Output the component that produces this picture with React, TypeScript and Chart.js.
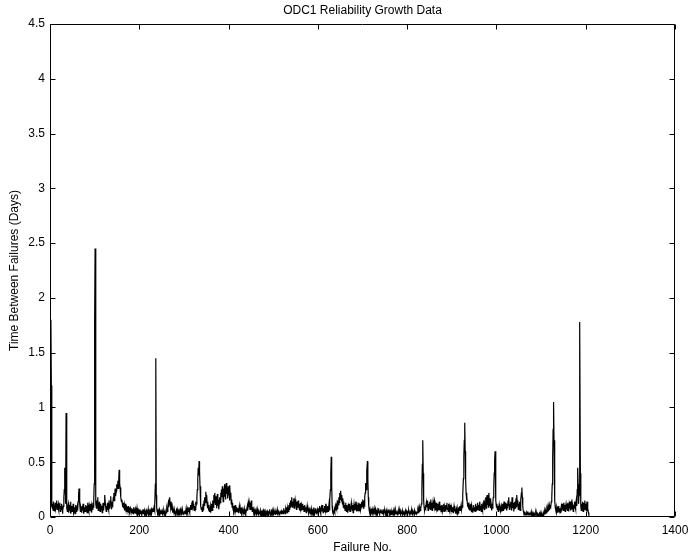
import React, { useEffect, useRef } from "react";
import { Chart, registerables } from "chart.js";

Chart.register(...registerables);

const chartTitle = "ODC1 Reliability Growth Data";
const xAxisTitle = "Failure No.";
const yAxisTitle = "Time Between Failures (Days)";
const xRange = [0, 1400];
const xStep = 200;
const yRange = [0, 4.5];
const yStep = 0.5;

// Time between failures (days), failures 1..200
const failures1to200 = [
  0.10, 1.80, 1.20, 0.15, 0.08, 0.12, 0.06, 0.14, 0.09, 0.11, 0.05, 0.13, 0.08, 0.10, 0.15, 0.07, 0.12, 0.09, 0.06, 0.11,
  0.08, 0.13, 0.05, 0.10, 0.07, 0.12, 0.09, 0.03, 0.06, 0.10, 0.18, 0.25, 0.45, 0.30, 0.12, 0.95, 0.40, 0.08, 0.05, 0.10,
  0.12, 0.04, 0.09, 0.06, 0.11, 0.14, 0.03, 0.07, 0.10, 0.05, 0.08, 0.12, 0.04, 0.06, 0.09, 0.03, 0.07, 0.11, 0.05, 0.08,
  0.10, 0.06, 0.14, 0.20, 0.26, 0.18, 0.12, 0.05, 0.09, 0.07, 0.04, 0.10, 0.06, 0.12, 0.08, 0.03, 0.07, 0.09, 0.05, 0.11,
  0.06, 0.10, 0.04, 0.08, 0.13, 0.07, 0.05, 0.11, 0.09, 0.06, 0.12, 0.08, 0.04, 0.10, 0.07, 0.13, 0.09, 0.15, 0.30, 1.78,
  2.45, 0.50, 0.12, 0.08, 0.15, 0.10, 0.18, 0.06, 0.11, 0.09, 0.14, 0.05, 0.08, 0.12, 0.07, 0.10, 0.04, 0.09, 0.13, 0.06,
  0.11, 0.17, 0.20, 0.12, 0.08, 0.05, 0.10, 0.07, 0.13, 0.09, 0.06, 0.11, 0.08, 0.15, 0.12, 0.19, 0.10, 0.07, 0.14, 0.09,
  0.12, 0.18, 0.22, 0.15, 0.20, 0.26, 0.19, 0.24, 0.30, 0.25, 0.28, 0.33, 0.26, 0.35, 0.43, 0.31, 0.27, 0.22, 0.18, 0.14,
  0.16, 0.12, 0.09, 0.13, 0.08, 0.11, 0.06, 0.10, 0.07, 0.12, 0.05, 0.09, 0.08, 0.06, 0.10, 0.04, 0.07, 0.09, 0.05, 0.08,
  0.06, 0.04, 0.08, 0.05, 0.07, 0.03, 0.06, 0.09, 0.04, 0.05, 0.07, 0.03, 0.06, 0.04, 0.08, 0.05, 0.03, 0.06, 0.04, 0.05,
];

// failures 201..400
const failures201to400 = [
  0.07, 0.03, 0.05, 0.04, 0.06, 0.02, 0.05, 0.07, 0.03, 0.04, 0.06, 0.03, 0.05, 0.02, 0.04, 0.06, 0.03, 0.05, 0.04, 0.07,
  0.03, 0.05, 0.04, 0.06, 0.03, 0.05, 0.07, 0.04, 0.06, 0.08, 0.05, 0.07, 0.09, 0.06, 0.10, 0.30, 1.45, 0.20, 0.08, 0.05,
  0.04, 0.06, 0.03, 0.05, 0.07, 0.02, 0.04, 0.06, 0.03, 0.05, 0.04, 0.02, 0.05, 0.03, 0.06, 0.04, 0.03, 0.05, 0.02, 0.04,
  0.06, 0.08, 0.05, 0.10, 0.13, 0.09, 0.15, 0.18, 0.12, 0.14, 0.08, 0.11, 0.06, 0.09, 0.04, 0.07, 0.05, 0.03, 0.06, 0.04,
  0.05, 0.03, 0.06, 0.04, 0.07, 0.05, 0.02, 0.04, 0.06, 0.03, 0.05, 0.07, 0.04, 0.02, 0.05, 0.03, 0.06, 0.04, 0.05, 0.03,
  0.04, 0.06, 0.03, 0.05, 0.08, 0.04, 0.06, 0.03, 0.07, 0.05, 0.09, 0.06, 0.04, 0.08, 0.11, 0.07, 0.13, 0.09, 0.15, 0.10,
  0.12, 0.08, 0.06, 0.10, 0.07, 0.14, 0.09, 0.12, 0.18, 0.25, 0.35, 0.45, 0.38, 0.51, 0.42, 0.28, 0.15, 0.10, 0.07, 0.09,
  0.05, 0.08, 0.12, 0.06, 0.15, 0.10, 0.18, 0.13, 0.23, 0.16, 0.20, 0.12, 0.08, 0.11, 0.06, 0.09, 0.05, 0.07, 0.10, 0.04,
  0.08, 0.12, 0.06, 0.10, 0.15, 0.09, 0.20, 0.13, 0.22, 0.17, 0.11, 0.19, 0.08, 0.14, 0.21, 0.10, 0.16, 0.07, 0.12, 0.18,
  0.13, 0.22, 0.15, 0.25, 0.18, 0.28, 0.20, 0.14, 0.26, 0.19, 0.30, 0.22, 0.16, 0.27, 0.31, 0.21, 0.25, 0.17, 0.28, 0.20,
];

// failures 401..600
const failures401to600 = [
  0.24, 0.15, 0.29, 0.18, 0.22, 0.12, 0.16, 0.09, 0.13, 0.07, 0.10, 0.05, 0.08, 0.06, 0.11, 0.04, 0.07, 0.09, 0.05, 0.08,
  0.06, 0.04, 0.07, 0.10, 0.05, 0.08, 0.03, 0.06, 0.09, 0.04, 0.07, 0.05, 0.03, 0.06, 0.08, 0.04, 0.05, 0.07, 0.03, 0.06,
  0.08, 0.10, 0.06, 0.12, 0.09, 0.14, 0.11, 0.07, 0.13, 0.10, 0.15, 0.08, 0.05, 0.09, 0.06, 0.04, 0.07, 0.05, 0.03, 0.06,
  0.04, 0.02, 0.05, 0.03, 0.06, 0.04, 0.02, 0.05, 0.03, 0.04, 0.06, 0.02, 0.04, 0.03, 0.05, 0.02, 0.04, 0.06, 0.03, 0.05,
  0.03, 0.05, 0.02, 0.04, 0.06, 0.03, 0.05, 0.02, 0.04, 0.03, 0.05, 0.07, 0.03, 0.04, 0.02, 0.05, 0.03, 0.06, 0.04, 0.02,
  0.05, 0.03, 0.04, 0.06, 0.02, 0.04, 0.03, 0.05, 0.07, 0.03, 0.04, 0.06, 0.02, 0.05, 0.03, 0.04, 0.06, 0.03, 0.05, 0.04,
  0.06, 0.03, 0.05, 0.08, 0.04, 0.06, 0.03, 0.07, 0.05, 0.09, 0.04, 0.06, 0.08, 0.05, 0.11, 0.07, 0.13, 0.09, 0.15, 0.10,
  0.12, 0.18, 0.09, 0.14, 0.11, 0.17, 0.08, 0.13, 0.16, 0.10, 0.12, 0.07, 0.14, 0.09, 0.11, 0.15, 0.08, 0.12, 0.06, 0.10,
  0.13, 0.08, 0.11, 0.06, 0.09, 0.12, 0.07, 0.10, 0.05, 0.08, 0.11, 0.06, 0.09, 0.04, 0.07, 0.10, 0.05, 0.08, 0.06, 0.04,
  0.07, 0.05, 0.03, 0.06, 0.08, 0.04, 0.06, 0.03, 0.05, 0.07, 0.04, 0.06, 0.03, 0.05, 0.08, 0.04, 0.06, 0.03, 0.07, 0.05,
];

// failures 601..800
const failures601to800 = [
  0.04, 0.08, 0.05, 0.10, 0.06, 0.03, 0.07, 0.09, 0.05, 0.11, 0.06, 0.04, 0.08, 0.05, 0.10, 0.07, 0.12, 0.06, 0.09, 0.04,
  0.07, 0.10, 0.05, 0.08, 0.12, 0.06, 0.15, 0.25, 0.40, 0.55, 0.30, 0.10, 0.05, 0.03, 0.06, 0.04, 0.07, 0.05, 0.09, 0.06,
  0.10, 0.08, 0.12, 0.07, 0.15, 0.11, 0.18, 0.13, 0.22, 0.16, 0.24, 0.19, 0.14, 0.20, 0.12, 0.17, 0.09, 0.14, 0.08, 0.11,
  0.06, 0.13, 0.09, 0.05, 0.11, 0.07, 0.04, 0.09, 0.06, 0.12, 0.08, 0.05, 0.10, 0.07, 0.13, 0.09, 0.06, 0.11, 0.04, 0.08,
  0.12, 0.06, 0.10, 0.07, 0.14, 0.08, 0.05, 0.11, 0.09, 0.06, 0.13, 0.08, 0.10, 0.05, 0.12, 0.07, 0.09, 0.14, 0.10, 0.16,
  0.12, 0.08, 0.15, 0.10, 0.18, 0.22, 0.31, 0.25, 0.31, 0.42, 0.51, 0.35, 0.18, 0.10, 0.06, 0.04, 0.07, 0.05, 0.03, 0.06,
  0.04, 0.07, 0.05, 0.03, 0.06, 0.08, 0.04, 0.05, 0.03, 0.07, 0.05, 0.04, 0.06, 0.03, 0.05, 0.08, 0.04, 0.06, 0.03, 0.05,
  0.07, 0.04, 0.06, 0.03, 0.05, 0.04, 0.07, 0.03, 0.05, 0.06, 0.04, 0.02, 0.05, 0.03, 0.06, 0.04, 0.03, 0.05, 0.07, 0.04,
  0.03, 0.05, 0.04, 0.06, 0.02, 0.04, 0.05, 0.03, 0.06, 0.04, 0.02, 0.05, 0.03, 0.04, 0.06, 0.03, 0.05, 0.02, 0.04, 0.03,
  0.05, 0.03, 0.06, 0.04, 0.02, 0.05, 0.03, 0.04, 0.06, 0.03, 0.05, 0.04, 0.02, 0.05, 0.03, 0.06, 0.04, 0.03, 0.05, 0.04,
];

// failures 801..1000
const failures801to1000 = [
  0.03, 0.05, 0.04, 0.06, 0.03, 0.02, 0.05, 0.04, 0.03, 0.06, 0.04, 0.02, 0.05, 0.03, 0.04, 0.06, 0.03, 0.05, 0.04, 0.03,
  0.05, 0.03, 0.04, 0.06, 0.04, 0.07, 0.05, 0.08, 0.06, 0.10, 0.08, 0.12, 0.25, 0.48, 0.70, 0.40, 0.15, 0.09, 0.06, 0.08,
  0.11, 0.07, 0.13, 0.09, 0.15, 0.10, 0.06, 0.12, 0.08, 0.14, 0.11, 0.07, 0.16, 0.09, 0.13, 0.06, 0.10, 0.14, 0.08, 0.12,
  0.15, 0.09, 0.11, 0.06, 0.13, 0.08, 0.10, 0.05, 0.12, 0.07, 0.09, 0.14, 0.06, 0.10, 0.08, 0.05, 0.11, 0.07, 0.09, 0.06,
  0.08, 0.12, 0.05, 0.09, 0.07, 0.11, 0.06, 0.10, 0.13, 0.07, 0.09, 0.05, 0.12, 0.08, 0.06, 0.10, 0.07, 0.11, 0.05, 0.08,
  0.06, 0.09, 0.04, 0.07, 0.10, 0.05, 0.08, 0.06, 0.03, 0.07, 0.05, 0.08, 0.04, 0.06, 0.09, 0.05, 0.07, 0.10, 0.06, 0.08,
  0.11, 0.07, 0.09, 0.14, 0.20, 0.35, 0.55, 0.70, 0.86, 0.60, 0.35, 0.22, 0.15, 0.19, 0.12, 0.09, 0.13, 0.07, 0.10, 0.06,
  0.09, 0.12, 0.07, 0.05, 0.10, 0.08, 0.04, 0.07, 0.11, 0.06, 0.09, 0.05, 0.08, 0.12, 0.06, 0.10, 0.07, 0.13, 0.08, 0.11,
  0.06, 0.09, 0.14, 0.07, 0.10, 0.05, 0.12, 0.08, 0.06, 0.11, 0.09, 0.15, 0.07, 0.12, 0.10, 0.18, 0.08, 0.13, 0.20, 0.11,
  0.16, 0.09, 0.22, 0.14, 0.10, 0.17, 0.08, 0.12, 0.06, 0.10, 0.08, 0.13, 0.18, 0.25, 0.40, 0.52, 0.60, 0.35, 0.15, 0.09,
];

// failures 1001..1207
const failures1001to1207 = [
  0.12, 0.07, 0.10, 0.05, 0.08, 0.11, 0.06, 0.09, 0.04, 0.07, 0.10, 0.05, 0.08, 0.12, 0.06, 0.09, 0.14, 0.07, 0.11, 0.08,
  0.13, 0.09, 0.06, 0.12, 0.08, 0.15, 0.10, 0.18, 0.07, 0.12, 0.09, 0.14, 0.11, 0.06, 0.18, 0.10, 0.08, 0.13, 0.05, 0.10,
  0.14, 0.08, 0.12, 0.17, 0.09, 0.20, 0.11, 0.15, 0.07, 0.12, 0.09, 0.14, 0.06, 0.10, 0.16, 0.22, 0.27, 0.18, 0.10, 0.06,
  0.04, 0.03, 0.05, 0.02, 0.04, 0.03, 0.02, 0.04, 0.03, 0.05, 0.02, 0.03, 0.02, 0.04, 0.03, 0.02, 0.03, 0.05, 0.02, 0.03,
  0.02, 0.04, 0.03, 0.02, 0.03, 0.01, 0.02, 0.04, 0.02, 0.03, 0.01, 0.02, 0.03, 0.02, 0.01, 0.03, 0.02, 0.04, 0.02, 0.01,
  0.02, 0.03, 0.01, 0.02, 0.04, 0.02, 0.03, 0.05, 0.03, 0.04, 0.06, 0.04, 0.07, 0.05, 0.08, 0.06, 0.09, 0.07, 0.10, 0.08,
  0.11, 0.09, 0.14, 0.18, 0.30, 0.55, 0.80, 1.05, 0.70, 0.35, 0.15, 0.08, 0.06, 0.09, 0.05, 0.07, 0.04, 0.08, 0.06, 0.10,
  0.05, 0.08, 0.04, 0.06, 0.09, 0.05, 0.12, 0.07, 0.10, 0.06, 0.13, 0.08, 0.11, 0.05, 0.09, 0.12, 0.07, 0.10, 0.06, 0.13,
  0.09, 0.05, 0.11, 0.08, 0.14, 0.06, 0.10, 0.13, 0.07, 0.12, 0.09, 0.05, 0.11, 0.08, 0.14, 0.10, 0.07, 0.12, 0.16, 0.10,
  0.25, 0.45, 0.30, 0.12, 0.20, 0.90, 1.78, 0.40, 0.10, 0.06, 0.12, 0.08, 0.14, 0.05, 0.10, 0.13, 0.07, 0.15, 0.09, 0.12,
  0.06, 0.10, 0.14, 0.05, 0.08, 0.04, 0.02,
];

const timeBetweenFailures = [
  ...failures1to200,
  ...failures201to400,
  ...failures401to600,
  ...failures601to800,
  ...failures801to1000,
  ...failures1001to1207,
];

const FONT = "'Liberation Sans', Arial, Helvetica, sans-serif";

const matlabBox = {
  id: "matlabBox",
  afterDraw(chart: any) {
    const { ctx, chartArea: a, scales } = chart;
    const L = Math.round(a.left) + 0.5;
    const R = Math.round(a.right) - 0.5;
    const T = Math.round(a.top) + 0.5;
    const B = Math.round(a.bottom) - 0.5;
    const tick = 5;
    ctx.save();
    ctx.strokeStyle = "#000";
    ctx.lineWidth = 1;
    ctx.beginPath();
    ctx.rect(L, T, R - L, B - T);
    scales.x.ticks.forEach((t: any) => {
      const px = Math.round(scales.x.getPixelForValue(t.value)) + 0.5;
      ctx.moveTo(px, B);
      ctx.lineTo(px, B - tick);
      ctx.moveTo(px, T);
      ctx.lineTo(px, T + tick);
    });
    scales.y.ticks.forEach((t: any) => {
      const py = Math.round(scales.y.getPixelForValue(t.value)) + 0.5;
      ctx.moveTo(L, py);
      ctx.lineTo(L + tick, py);
      ctx.moveTo(R, py);
      ctx.lineTo(R - tick, py);
    });
    ctx.stroke();
    ctx.restore();
  },
};

export default function App() {
  const ref = useRef<HTMLCanvasElement>(null);

  useEffect(() => {
    if (!ref.current) return;
    const chart = new Chart(ref.current, {
      type: "line",
      data: {
        datasets: [
          {
            data: timeBetweenFailures.map((v, i) => ({ x: i + 1, y: v })),
            borderColor: "#000",
            borderWidth: 1.2,
            pointRadius: 0,
            tension: 0,
            fill: false,
          },
        ],
      },
      options: {
        animation: false,
        responsive: true,
        maintainAspectRatio: false,
        layout: { padding: { top: 0, right: 21, left: 0, bottom: 0 } },
        plugins: {
          legend: { display: false },
          tooltip: { enabled: false },
          title: {
            display: true,
            text: chartTitle,
            fullSize: false,
            color: "#000",
            font: { family: FONT, size: 12, weight: "normal" },
            padding: { top: 3, bottom: 6.6 },
          },
        },
        scales: {
          x: {
            type: "linear",
            min: xRange[0],
            max: xRange[1],
            ticks: {
              stepSize: xStep,
              color: "#000",
              font: { family: FONT, size: 12 },
              padding: 6,
              maxRotation: 0,
              callback: (v: any) => String(v),
            },
            grid: { display: false, drawTicks: false },
            border: { display: false },
            title: {
              display: true,
              text: xAxisTitle,
              color: "#000",
              font: { family: FONT, size: 12 },
              padding: 3,
            },
            afterFit(s: any) {
              s.height = 41;
            },
          },
          y: {
            type: "linear",
            min: yRange[0],
            max: yRange[1],
            ticks: {
              stepSize: yStep,
              color: "#000",
              font: { family: FONT, size: 12 },
              padding: 5,
              callback: (v: any) => String(v),
            },
            grid: { display: false, drawTicks: false },
            border: { display: false },
            title: {
              display: true,
              text: yAxisTitle,
              color: "#000",
              font: { family: FONT, size: 12 },
              padding: 7,
            },
            afterFit(s: any) {
              s.width = 50;
            },
          },
        },
      },
      plugins: [matlabBox],
    });
    return () => chart.destroy();
  }, []);

  return (
    <div
      style={{
        position: "absolute",
        left: 0,
        top: 0,
        width: 696,
        height: 558,
        background: "#fff",
      }}
    >
      <canvas ref={ref} />
    </div>
  );
}
